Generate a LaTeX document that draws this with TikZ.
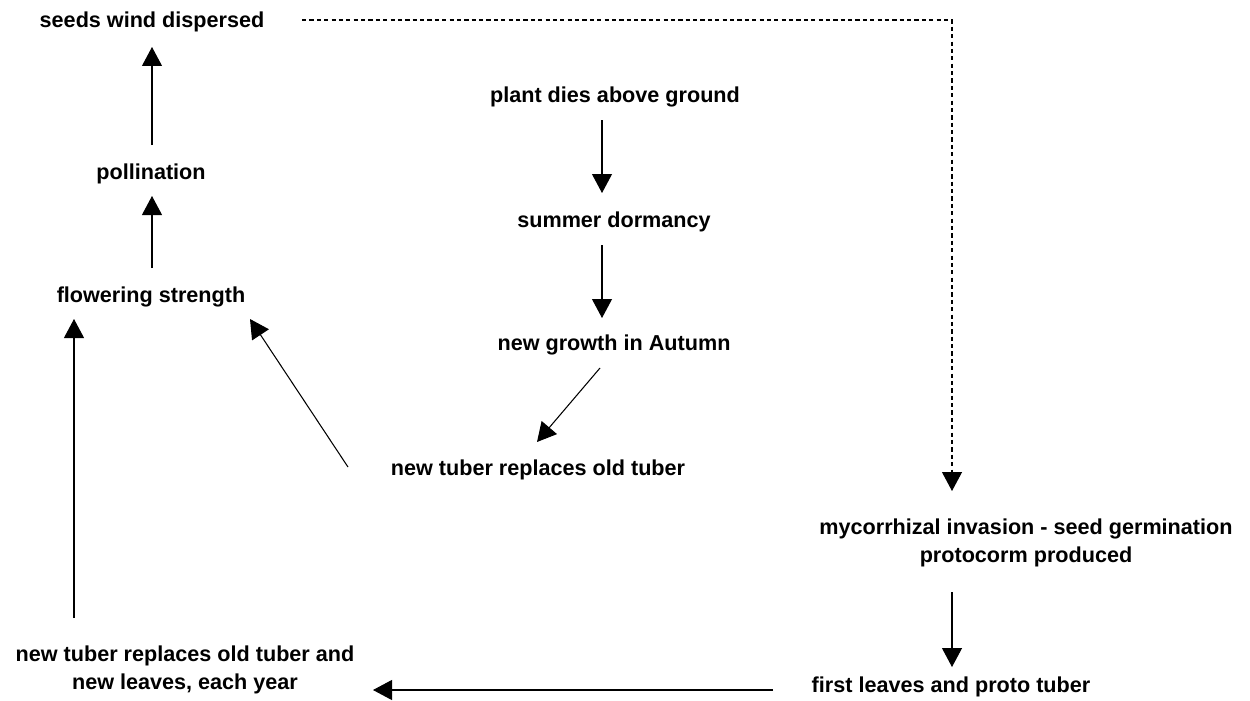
\documentclass[tikz,border=0pt]{standalone}
\usepackage{fontspec}
\setmainfont{Liberation Sans}
\usepackage{tikz}
\usetikzlibrary{arrows.meta}

\tikzset{
    stage/.style={font=\fontsize{12.3}{15.9}\selectfont\bfseries, align=center, inner sep=0pt},
    flow/.style={-{Triangle[length=0.38cm,width=0.4cm]}, line width=0.6pt},
    seedpath/.style={flow, dash pattern=on 2.4pt off 1.8pt}
}

\begin{document}
\begin{tikzpicture}[x=0.02cm,y=-0.02cm]
        \useasboundingbox (0,0) rectangle (1250,700);
        % left column
        \node[stage] (seeds) at (152,22) {seeds wind dispersed};
        \node[stage] (pollin) at (151,174) {pollination};
        \node[stage] (flower) at (151,297) {flowering strength};
        \node[stage] (yearly) at (185,670) {new tuber replaces old tuber and\\new leaves, each year};
        % middle column
        \node[stage] (dies) at (615,97) {plant dies above ground};
        \node[stage] (dormant) at (614,222) {summer dormancy};
        \node[stage] (autumn) at (614,345) {new growth in Autumn};
        \node[stage] (tuber) at (538,470) {new tuber replaces old tuber};
        % right column
        \node[stage] (invade) at (1026,543) {mycorrhizal invasion - seed germination\\protocorm produced};
        \node[stage] (leaves) at (951,687) {first leaves and proto tuber};

        \coordinate (pollin-up) at (152,145);   \coordinate (seeds-in) at (152,47);
        \coordinate (flower-up) at (152,268);   \coordinate (pollin-in) at (152,196);
        \coordinate (yearly-up) at (74,618);    \coordinate (flower-in) at (74,319);
        \coordinate (tuber-up) at (348,467);    \coordinate (flower-in2) at (250,319);
        \coordinate (dies-down) at (602,120);   \coordinate (dormant-in) at (602,193);
        \coordinate (dormant-down) at (602,245); \coordinate (autumn-in) at (602,318);
        \coordinate (autumn-down) at (600,368); \coordinate (tuber-in) at (537,442);
        \coordinate (seeds-out) at (302,20);    \coordinate (invade-in) at (952,491);
        \coordinate (invade-down) at (952,592); \coordinate (leaves-in) at (952,667);
        \coordinate (leaves-out) at (773,690);  \coordinate (yearly-in) at (373,690);

        \draw[flow] (pollin-up) -- (seeds-in);
        \draw[flow] (flower-up) -- (pollin-in);
        \draw[flow] (yearly-up) -- (flower-in);
        \draw[flow] (tuber-up) -- (flower-in2);
        \draw[flow] (dies-down) -- (dormant-in);
        \draw[flow] (dormant-down) -- (autumn-in);
        \draw[flow] (autumn-down) -- (tuber-in);
        \draw[seedpath] (seeds-out) -| (invade-in);
        \draw[flow] (invade-down) -- (leaves-in);
        \draw[flow] (leaves-out) -- (yearly-in);
    \end{tikzpicture}
\end{document}
